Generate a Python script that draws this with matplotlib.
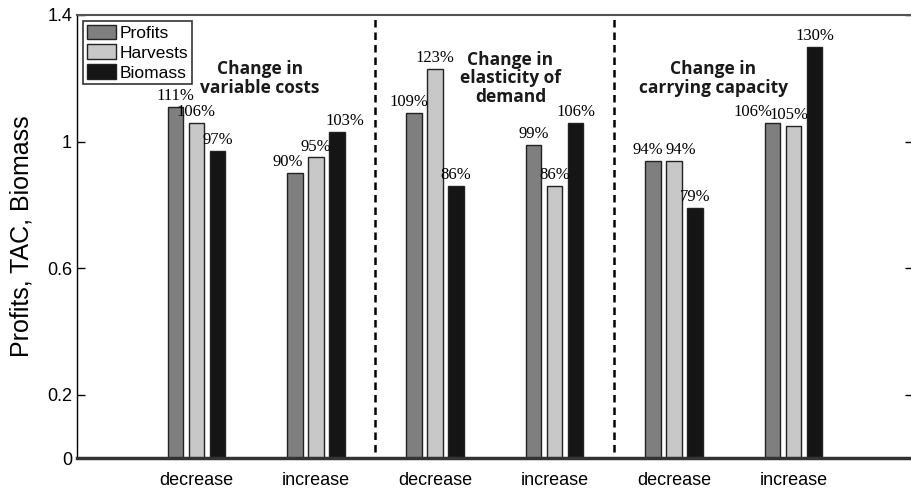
import numpy as np
import matplotlib.pyplot as plt

# scenario categories (x tick labels) and group titles
categories = ['decrease', 'increase', 'decrease', 'increase', 'decrease', 'increase']
group_titles = ['Change in\nvariable costs', 'Change in\nelasticity of\ndemand',
                'Change in\ncarrying capacity']
group_centers = [1.53, 3.63, 5.33]

# relative values in percent (labels), bar heights = pct / 100
profits_pct = [111, 90, 109, 99, 94, 106]
harvests_pct = [106, 95, 123, 86, 94, 105]
biomass_pct = [97, 103, 86, 106, 79, 130]

series = [('Profits', profits_pct, '#7f7f7f'),
          ('Harvests', harvests_pct, '#c8c8c8'),
          ('Biomass', biomass_pct, '#151515')]

# small horizontal nudges (points) for labels that would collide
label_nudge = {(0, 1): -5, (0, 5): -14, (1, 5): -3, (0, 4): -4, (1, 4): 5,
               (2, 1): 6, (0, 2): -4}

plt.rcParams['font.family'] = ['Liberation Sans', 'DejaVu Sans']

fig = plt.figure(figsize=(9.11, 4.91), dpi=100)
ax = fig.add_axes([0.0845, 0.0672, 0.9175, 0.9023])

x = np.arange(1, len(categories) + 1)
width = 0.13
step = 0.176

for i, (name, pct, color) in enumerate(series):
    vals = np.array(pct) / 100.0
    xs = x + (i - 1) * step
    ax.bar(xs, vals, width, color=color, edgecolor='#222222', linewidth=1.0, label=name)
    for j, (xi, v, p) in enumerate(zip(xs, vals, pct)):
        dx = label_nudge.get((i, j), 0)
        ax.annotate(f'{p}%', (xi, v), xytext=(dx, 2), textcoords='offset points',
                    ha='center', va='bottom', fontsize=12, family='Liberation Serif')

# dashed separators between groups
for xv in [2.5, 4.5]:
    ax.plot([xv, xv], [0.02, 1.4], color='black', linestyle=(0, (3, 2)), linewidth=1.8)

for xc, t in zip(group_centers, group_titles):
    ax.text(xc, 1.2, t, ha='center', va='center', fontsize=12.5, fontweight='bold',
            family='Open Sans', linespacing=1.05, color='#1a1a1a')

ax.set_xlim(0, 7)
ax.set_ylim(0, 1.4)
ax.set_xticks(x)
ax.set_xticklabels(categories, fontsize=13)
ax.set_yticks([0, 0.2, 0.6, 1, 1.4])
ax.set_yticklabels(['0', '0.2', '0.6', '1', '1.4'], fontsize=13)
ax.tick_params(axis='x', length=0, pad=10)
ax.tick_params(axis='y', direction='in', length=6, right=True, width=1)
ax.set_ylabel('Profits, TAC, Biomass', fontsize=18, labelpad=10)

for s in ['left', 'right']:
    ax.spines[s].set_linewidth(1.0)
ax.spines['top'].set_color('#555555')
ax.spines['top'].set_linewidth(1.5)
ax.spines['bottom'].set_color('#333333')
ax.spines['bottom'].set_linewidth(2.5)

leg = ax.legend(loc='upper left', fontsize=12.5, frameon=True, fancybox=False,
                borderpad=0.2, handlelength=1.7, handleheight=0.95, handletextpad=0.2,
                labelspacing=0.2, borderaxespad=0.35)
leg.get_frame().set_edgecolor('black')
leg.get_frame().set_linewidth(1.2)

fig.savefig('out.png', dpi=100)
